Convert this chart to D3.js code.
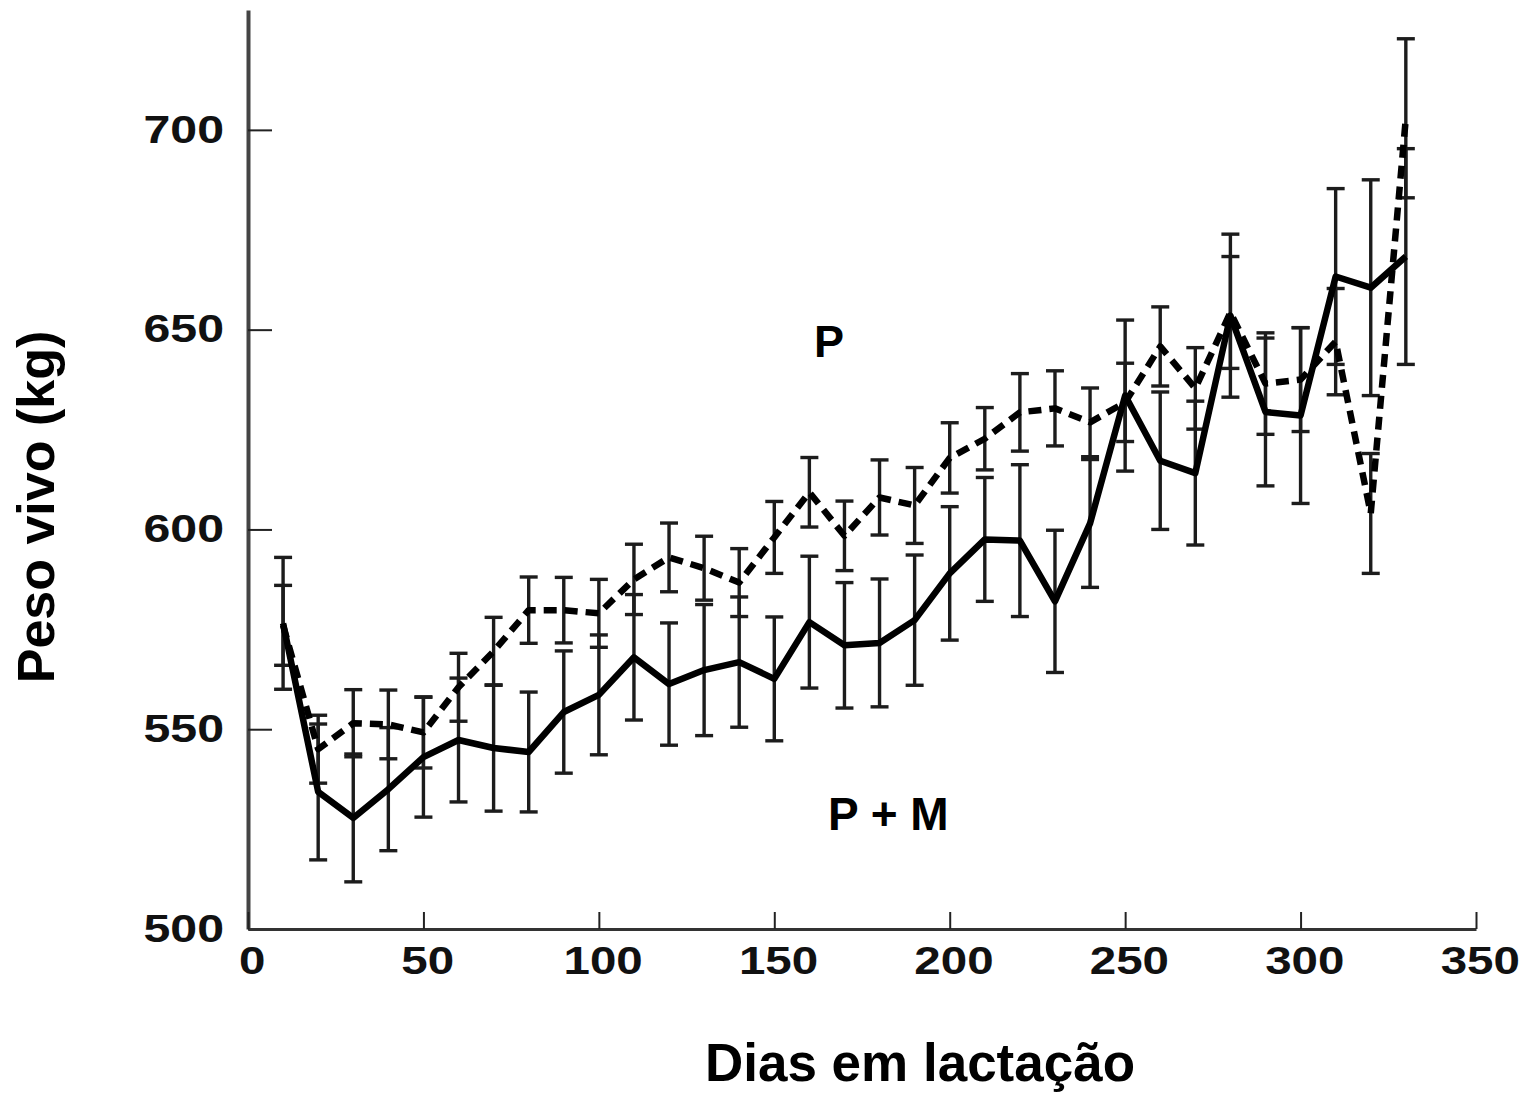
<!DOCTYPE html>
<html>
<head>
<meta charset="utf-8">
<script src="https://cdn.jsdelivr.net/npm/d3@7"></script>
<style>
    body { margin: 0; background: #fff; }
    text { font-family: "Liberation Sans", Arial, sans-serif; font-weight: bold; }
</style>
</head>
<body>
<svg></svg>
<script>
let width = 1529,
    height = 1098;

// days in lactation
let days = [10, 20, 30, 40, 50, 60, 70, 80, 90, 100, 110, 120, 130, 140, 150, 160,
    170, 180, 190, 200, 210, 220, 230, 240, 250, 260, 270, 280, 290, 300, 310, 320, 330];

// P + M (solid line)
let pmMean = [576.5, 534.3, 527.8, 535, 543, 547.3, 545.3, 544.3, 554.3, 558.6, 568, 561.3,
    564.8, 566.8, 562.6, 576.8, 571, 571.6, 577.3, 589, 597.5, 597.2, 582, 601.5, 633.5,
    617.2, 614.1, 653.5, 629.4, 628.5, 663.3, 660.5, 668.3];
let pmErr = [16.5, 17, 16, 15.4, 15, 15.5, 15.8, 15, 15.3, 15, 15.7, 15.3, 16.4, 16.3, 15.5,
    16.5, 15.7, 16, 16.3, 16.7, 15.5, 19, 17.8, 16, 18.9, 17.2, 18, 20.4, 18.5, 22, 22, 27, 27];

// P (dashed line)
let pMean = [576, 545, 551.5, 551.2, 549.2, 560.5, 569.5, 579.8, 579.8, 579, 587.5, 593,
    590.3, 586.7, 598, 609.3, 598.4, 608, 606, 617.9, 622.7, 629.3, 630.3, 626.8, 631.8,
    645.8, 635.3, 654.3, 636.5, 637.5, 647, 604, 702.9];
let pErr = [10, 8.5, 8.4, 8.6, 8.9, 8.5, 8.5, 8.3, 8.2, 8.5, 8.8, 8.6, 8, 8.5, 9, 8.7, 8.7,
    9.4, 9.5, 8.8, 7.8, 9.7, 9.4, 8.6, 9.8, 9.9, 10.2, 14, 12.7, 13, 13.3, 15, 19.9];

let xTicks = [0, 50, 100, 150, 200, 250, 300, 350];
let yTicks = [500, 550, 600, 650, 700];

let svg = d3.select("svg")
    .attr("width", width)
    .attr("height", height);

let x = d3.scaleLinear().domain([0, 350]).range([248, 1476]);
let y = d3.scaleLinear().domain([500, 730]).range([929, 10]);

let series = [
    { name: "P+M", mean: pmMean, err: pmErr, dash: null },
    { name: "P", mean: pMean, err: pErr, dash: "13,8" }
];

// error bars
let capW = 9;
series.forEach(s => {
    let g = svg.append("g").attr("stroke", "#1c1c1c").attr("stroke-width", 3.4);
    days.forEach((d, i) => {
        let lo = y(s.mean[i] - s.err[i]),
            hi = y(s.mean[i] + s.err[i]);
        g.append("line").attr("x1", x(d)).attr("x2", x(d)).attr("y1", lo).attr("y2", hi);
        g.append("line").attr("x1", x(d) - capW).attr("x2", x(d) + capW).attr("y1", lo).attr("y2", lo);
        g.append("line").attr("x1", x(d) - capW).attr("x2", x(d) + capW).attr("y1", hi).attr("y2", hi);
    });
});

let line = d3.line()
    .x(d => x(d[0]))
    .y(d => y(d[1]));

series.forEach(s => {
    svg.append("path")
        .datum(days.map((d, i) => [d, s.mean[i]]))
        .attr("fill", "none")
        .attr("stroke", "#000")
        .attr("stroke-width", 6.5)
        .attr("stroke-linejoin", "round")
        .attr("stroke-dasharray", s.dash)
        .attr("d", line);
});

// axes, ticks point inwards
let stretch = 1.27;
let yAxis = svg.append("g")
    .attr("transform", "translate(248,0)")
    .call(d3.axisLeft(y).tickValues(yTicks).tickSizeInner(-24).tickSizeOuter(0).tickPadding(24 / stretch));
yAxis.select(".domain").attr("stroke", "#444").attr("stroke-width", 4);
yAxis.selectAll(".tick line").attr("stroke", "#222").attr("stroke-width", 2);
yAxis.selectAll(".tick text")
    .attr("transform", `scale(${stretch},1)`)
    .attr("fill", "#111")
    .style("font-size", "38px")
    .style("font-family", "'Liberation Sans', Arial, sans-serif")
    .style("font-weight", "bold");

let xAxis = svg.append("g")
    .attr("transform", "translate(0,929)")
    .call(d3.axisBottom(x).tickValues(xTicks).tickSizeInner(-17).tickSizeOuter(0).tickPadding(18));
xAxis.select(".domain").attr("stroke", "#333").attr("stroke-width", 3);
xAxis.selectAll(".tick line").attr("stroke", "#222").attr("stroke-width", 2);
xAxis.selectAll(".tick text")
    .attr("transform", "scale(1.25,1)")
    .attr("dx", 3)
    .attr("fill", "#111")
    .style("font-size", "38px")
    .style("font-family", "'Liberation Sans', Arial, sans-serif")
    .style("font-weight", "bold");

svg.append("text")
    .attr("x", 920)
    .attr("y", 1081)
    .attr("text-anchor", "middle")
    .style("font-size", "53px")
    .text("Dias em lactação");

svg.append("text")
    .attr("transform", "translate(54,507) rotate(-90)")
    .attr("text-anchor", "middle")
    .style("font-size", "52px")
    .text("Peso vivo (kg)");

svg.append("text")
    .attr("x", 814)
    .attr("y", 357)
    .style("font-size", "45px")
    .text("P");

svg.append("text")
    .attr("x", 828)
    .attr("y", 830)
    .style("font-size", "46px")
    .text("P + M");
</script>
</body>
</html>
